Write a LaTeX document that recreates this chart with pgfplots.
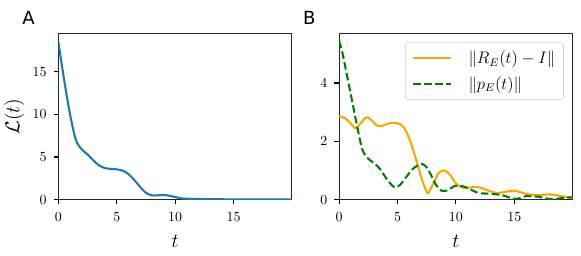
\documentclass[border=0pt]{standalone}
\usepackage{pgfplots}
\pgfplotsset{compat=1.18}
\usepackage{fontspec}
\newfontfamily\labfont{DejaVu Sans}
\definecolor{mplblue}{HTML}{1F77B4}
\definecolor{mplorange}{HTML}{FFA500}
\definecolor{mplgreen}{HTML}{008000}
\begin{document}
\begin{tikzpicture}
\useasboundingbox (0,0) rectangle (418pt,183.6pt);
\pgfplotsset{
  every axis/.append style={
    scale only axis, width=168pt, height=119.5pt, anchor=south west,
    axis line style={black!85, line width=0.8pt},
    tick align=outside, xtick pos=bottom, ytick pos=left,
    major tick length=3.5pt, tick style={black, line width=0.8pt},
    xmin=0, xmax=20, ymin=0, xtick={0,5,10,15},
    xlabel={\Large $t$}, xlabel style={yshift=-3pt},
    tick label style={font=\normalsize},
    xticklabel style={yshift=-2.5pt}, yticklabel style={xshift=-1.5pt},
  }
}
\begin{axis}[at={(42pt,40pt)}, ymax=19.5, ytick={0,5,10,15},
  ylabel={\Large $\mathcal{L}(t)$}, ylabel style={yshift=-1pt}]
\addplot[mplblue, line width=1.5pt, smooth] coordinates {
(0,18.5) (0.5,14) (1,10) (1.5,7) (2,5.9) (2.5,5.3) (3,4.6) (3.5,4.0) (4,3.7) (4.5,3.6) (5,3.55) (5.5,3.4) (6,3.0) (6.5,2.3) (7,1.5) (7.5,0.8) (8,0.5) (8.5,0.5) (9,0.55) (9.5,0.45) (10,0.3) (10.5,0.15) (11,0.1) (12,0.08) (13,0.05) (15,0.03) (20,0.02)};
\end{axis}
\begin{axis}[at={(244pt,40pt)}, ymax=5.7, ytick={0,2,4},
  legend style={at={(0.962,0.946)}, anchor=north east, draw=black!20, rounded corners=2pt, font=\large, row sep=6pt, inner xsep=5pt, inner ysep=5pt,
    nodes={inner sep=1pt}},
  legend image code/.code={\draw[#1] (0pt,0pt) -- (27pt,0pt);},
  legend cell align=left]
\addplot[mplorange, line width=1.5pt, smooth, tension=0.5] coordinates {
(0,2.85) (0.5,2.8) (1,2.6) (1.4,2.45) (1.8,2.6) (2.3,2.82) (2.7,2.75) (3.2,2.55) (3.6,2.52) (4,2.58) (4.5,2.63) (5,2.62) (5.5,2.5) (6,2.1) (6.5,1.5) (7,0.8) (7.4,0.35) (7.6,0.22) (8,0.5) (8.5,0.9) (9,1.0) (9.5,0.85) (10,0.55) (10.5,0.42) (11,0.4) (11.5,0.43) (12,0.42) (12.5,0.35) (13,0.28) (13.5,0.22) (14,0.25) (15,0.3) (16,0.2) (17,0.15) (18,0.18) (19,0.12) (20,0.05)};
\addlegendentry{\hspace{11pt}$\|R_E(t)-I\|$}
\addplot[mplgreen, line width=1.5pt, dash pattern=on 5.5pt off 2.4pt, smooth, tension=0.5] coordinates {
(0,5.45) (0.3,5.0) (0.8,4.0) (1.2,3.2) (1.6,2.4) (2,1.7) (2.5,1.4) (3,1.25) (3.5,1.05) (4,0.75) (4.5,0.5) (4.8,0.42) (5.2,0.5) (5.7,0.75) (6.3,1.05) (7,1.22) (7.4,1.15) (7.8,0.9) (8.3,0.5) (8.8,0.3) (9.3,0.32) (9.8,0.45) (10.3,0.48) (11,0.4) (11.5,0.3) (12,0.22) (13,0.2) (14,0.15) (14.5,0.08) (15,0.03) (15.5,0.05) (16,0.12) (17,0.1) (18,0.02) (18.5,0.01) (19,0.05) (20,0.08)};
\addlegendentry{\hspace{11pt}$\|p_E(t)\|$}
\end{axis}
\node[font=\labfont\fontsize{13}{15}\selectfont] at (20.5pt,171pt) {A};
\node[font=\labfont\fontsize{13}{15}\selectfont] at (222.5pt,171pt) {B};
\end{tikzpicture}
\end{document}
